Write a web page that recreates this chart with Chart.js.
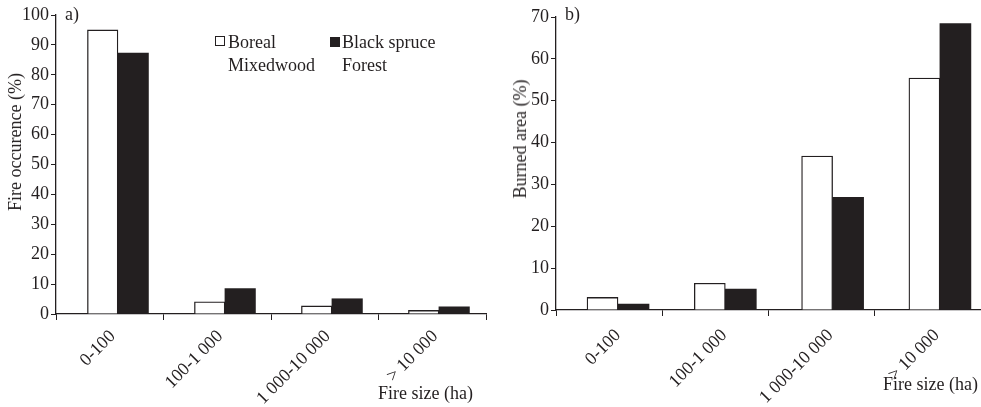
<!DOCTYPE html>
<html>
<head>
<meta charset="utf-8">
<script src="https://cdn.jsdelivr.net/npm/chart.js@4"></script>
<style>
  body { margin: 0; background: #fff; }
  #wrap { position: relative; width: 981px; height: 407px; font-family: "Liberation Serif", serif; color: #231f20; }
  .panel { position: absolute; top: 0; height: 407px; }
  .txt { position: absolute; font-size: 18px; line-height: 20px; white-space: nowrap; }
  .ytitle { position: absolute; font-size: 18px; line-height: 20px; white-space: nowrap; transform: translate(-50%, -50%) rotate(-90deg); }
  .key { position: absolute; font-size: 18px; line-height: 23px; white-space: nowrap; }
  .sq { position: absolute; width: 8px; height: 8px; border: 1px solid #231f20; }
</style>
</head>
<body>
<div id="wrap">
  <div class="panel" style="left:0;width:490px"><canvas id="chartA" width="490" height="407"></canvas></div>
  <div class="panel" style="left:490px;width:491px"><canvas id="chartB" width="491" height="407"></canvas></div>
  <div class="txt" style="left:65px;top:4px">a)</div>
  <div class="txt" style="left:565px;top:4px">b)</div>
  <div class="ytitle" style="left:15px;top:142px">Fire occurence (%)</div>
  <div class="ytitle" style="left:520px;top:139px">Burned area (%)</div>
  <div class="txt" style="left:378px;top:383px">Fire size (ha)</div>
  <div class="txt" style="left:883px;top:374px">Fire size (ha)</div>
  <div id="legend"></div>
</div>
<script>
"use strict";

//////// data
const sizeClasses = ["0-100", "100-1 000", "1 000-10 000", "> 10 000"];
const seriesNames = [["Boreal", "Mixedwood"], ["Black spruce", "Forest"]];
const occurBoreal = [95, 4.1, 2.7, 1.2];
const occurSpruce = [87.3, 8.5, 5.1, 2.4];
const areaBoreal = [3.0, 6.4, 36.8, 55.4];
const areaSpruce = [1.4, 5.0, 26.9, 68.4];

const ink = "#231f20";
const serif = "'Liberation Serif', 'Times New Roman', serif";

// bars sit on a hidden linear axis (the groups are a bit right of the category ticks in the original)
const toPoints = (arr) => arr.map((v, i) => ({ x: i, y: v }));

const makeChart = function (id, white, black, o) {
  return new Chart(document.getElementById(id), {
    type: "bar",
    data: {
      labels: sizeClasses,
      datasets: [
        { label: seriesNames[0].join(" "), data: toPoints(white), xAxisID: "xb", backgroundColor: "#fff", borderColor: ink, borderWidth: 1.3 },
        { label: seriesNames[1].join(" "), data: toPoints(black), xAxisID: "xb", backgroundColor: ink, borderColor: ink, borderWidth: 0 },
      ],
    },
    options: {
      responsive: false,
      animation: false,
      barThickness: o.bar,
      layout: { padding: { top: o.top, left: o.left, right: o.right, bottom: 0 } },
      plugins: { legend: { display: false }, tooltip: { enabled: false } },
      scales: {
        xb: {
          type: "linear",
          display: false,
          offset: false,
          min: o.xmin,
          max: o.xmax,
          ticks: { stepSize: 1, includeBounds: false },
        },
        x: {
          type: "category",
          offset: true,
          grid: { drawOnChartArea: false, tickLength: 6, color: ink, offset: true },
          border: { color: ink, width: 1.3 },
          ticks: { color: ink, font: { family: serif, size: 18 }, minRotation: 45, maxRotation: 45, autoSkip: false, padding: o.lblPad, labelOffset: o.lblOff },
          afterFit: (s) => { s.height = o.xh; },
        },
        y: {
          min: 0,
          max: o.max,
          grid: { drawOnChartArea: false, tickLength: 5, color: ink },
          border: { color: ink, width: 1.3 },
          ticks: { stepSize: 10, color: ink, font: { family: serif, size: 18 }, padding: 2 },
          afterFit: (s) => { s.width = o.yw; },
        },
      },
    },
  });
};

makeChart("chartA", occurBoreal, occurSpruce, {
  bar: 30.5, top: 15, left: 0, right: 4, xh: 93, max: 100, yw: 56,
  xmin: -0.579, xmax: 3.44, lblOff: 3, lblPad: 6,
});
makeChart("chartB", areaBoreal, areaSpruce, {
  bar: 31, top: 17, left: 14, right: 0, xh: 97, max: 70, yw: 52,
  xmin: -0.578, xmax: 3.383, lblOff: 9, lblPad: 9,
});

//////// legend (html, built from the series names)
const legend = document.getElementById("legend");
const keyPos = [{ sq: [215, 36], tx: [228, 31] }, { sq: [330, 37], tx: [342, 31] }];
seriesNames.forEach((lines, i) => {
  const p = keyPos[i];
  legend.insertAdjacentHTML(
    "beforeend",
    `<div class="sq" style="left:${p.sq[0]}px;top:${p.sq[1]}px;background:${i ? ink : "#fff"}"></div>
     <div class="key" style="left:${p.tx[0]}px;top:${p.tx[1]}px">${lines.join("<br>")}</div>`
  );
});
</script>
</body>
</html>
